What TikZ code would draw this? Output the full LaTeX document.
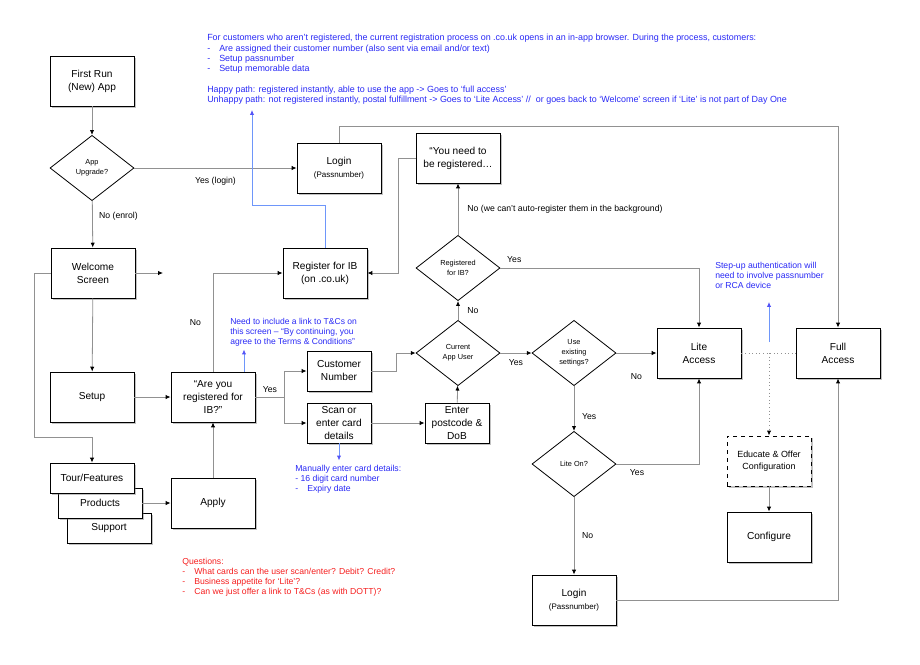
\documentclass[tikz,border=0pt]{standalone}
\usepackage{fontspec}
\setmainfont{Liberation Sans}
\usepackage{tikz}
\usetikzlibrary{shapes.geometric,shadows,arrows.meta}
\definecolor{noteblue}{RGB}{40,40,245}
\definecolor{linkblue}{RGB}{110,150,250}
\definecolor{qred}{RGB}{245,30,30}
\definecolor{linegray}{RGB}{145,145,145}

\begin{document}
\begin{tikzpicture}[x=0.75pt,y=0.75pt,yscale=-1,xscale=1,
  flowbox/.style={draw=black,line width=0.7pt,fill=white,align=center,inner sep=1pt,
    minimum width=63pt,minimum height=37.5pt,font=\fontsize{7.6}{9.75}\selectfont,
    drop shadow={shadow xshift=1.5pt,shadow yshift=-1.5pt,fill=black!60,opacity=0.4}},
  smallbox/.style={flowbox,minimum width=48pt,minimum height=30pt},
  stackbox/.style={flowbox,minimum height=22.5pt},
  decision/.style={diamond,draw=black,line width=0.6pt,fill=white,align=center,inner sep=0pt,
    minimum width=63pt,minimum height=49pt,font=\fontsize{5.5}{7.5}\selectfont},
  conn/.style={draw=linegray,line width=0.6pt,-{Latex[length=3.6pt,width=3.2pt,color=black]}},
  plain/.style={draw=linegray,line width=0.6pt},
  dotline/.style={draw=linegray,line width=0.7pt,dotted},
  bluelink/.style={draw=linkblue,line width=0.6pt,-{Latex[length=3.6pt,width=3.2pt,color=noteblue!80]}},
  lbl/.style={font=\fontsize{6.5}{7.5}\selectfont,inner sep=0.75pt},
  note/.style={font=\fontsize{6.5}{7.6}\selectfont,text=noteblue,align=left,inner sep=0.75pt,anchor=north west},
  ]
\useasboundingbox (0,0) rectangle (920,664);

% Text Node
\node[note,font=\fontsize{6.7}{7.75}\selectfont] (regnote) at (206,33) {For customers who aren’t registered, the current registration process on .co.uk opens in an in-app browser. During the process, customers:\\
\makebox[9pt][l]{-}Are assigned their customer number (also sent via email and/or text)\\
\makebox[9pt][l]{-}Setup passnumber\\
\makebox[9pt][l]{-}Setup memorable data\\[7.75pt]
Happy path: registered instantly, able to use the app -> Goes to ‘full access’\\
Unhappy path: not registered instantly, postal fulfillment -> Goes to ‘Lite Access’ //\ \ or goes back to ‘Welcome’ screen if ‘Lite’ is not part of Day One};

%Shape: Rectangle
\node[flowbox] (firstrun) at (92,81) {First Run\\(New) App};
%Shape: Diamond
\node[decision] (upgrade) at (92,168) {App\\Upgrade?};
%Shape: Rectangle
\node[flowbox] (login) at (339,168) {Login\\{\fontsize{6}{7.5}\selectfont(Passnumber)}};
\node[flowbox] (youneed) at (458,158) {“You need to\\be registered…};
\node[flowbox] (welcome) at (93,273) {Welcome\\Screen};
\node[flowbox] (register) at (325,273) {Register for IB\\(on .co.uk)};
\node[flowbox] (setup) at (92,397) {Setup};
\node[flowbox] (areyou) at (213,397) {“Are you\\registered for\\IB?”};
\node[smallbox] (customer) at (339,371) {Customer\\Number};
\node[smallbox] (scan) at (339,423) {Scan or\\enter card\\details};
\node[smallbox] (postcode) at (457,423) {Enter\\postcode \&\\DoB};
%Shape: Diamond
\node[decision] (registered) at (458,268) {Registered\\for IB?};
\node[decision] (current) at (458,353) {Current\\App User};
\node[decision] (useexisting) at (574,353) {Use\\existing\\settings?};
\node[decision] (liteon) at (574,464) {Lite On?};
%Shape: Rectangle
\node[flowbox] (lite) at (699,353) {Lite\\Access};
\node[flowbox] (full) at (838,353) {Full\\Access};
\node[flowbox,dashed,font=\fontsize{6.7}{9}\selectfont] (educate) at (769,461) {Educate \& Offer\\Configuration};
\node[flowbox] (configure) at (769,537) {Configure};
\node[flowbox] (login2) at (574,600) {Login\\{\fontsize{6}{7.5}\selectfont(Passnumber)}};
\node[stackbox] (support) at (109,528) {Support};
\node[stackbox] (products) at (100,503) {Products};
\node[stackbox] (tour) at (92,478) {Tour/Features};
\node[flowbox] (apply) at (213,503) {Apply};

\coordinate (welcomeend) at (163,273);
\coordinate (happytip) at (252,110);
\coordinate (stepfoot) at (769,342);

%Connectors
\draw[conn] (firstrun) -- (upgrade);
\draw[conn] (upgrade) -- node[lbl,below=6pt] {Yes (login)} (login);
\draw[conn] (upgrade) -- node[lbl,pos=0.33,right=4pt] {No (enrol)} (welcome);
\draw[conn] (welcome) -- (welcomeend);
\draw[conn] (welcome) -- (setup);
\draw[conn] (welcome.west) -- ++(-16,0) -- ++(0,164) -| (tour.north);
\draw[conn] (setup) -- (areyou);
\draw[conn] (areyou.north) |- node[lbl,pos=0.25,left=8pt] {No} (register.west);
\draw[plain] (areyou.east) -- node[lbl,above=2pt] {Yes} ++(29,0) coordinate (yesfork);
\draw[conn] (yesfork) |- (customer.west);
\draw[conn] (yesfork) |- (scan.west);
\draw[conn] (apply) -- (areyou);
\draw[conn] (products) -- (apply);
\draw[conn] (customer.east) -- ++(25,0) |- (current.west);
\draw[conn] (scan) -- (postcode);
\draw[conn] (postcode) -- (current);
\draw[conn] (current) -- node[lbl,right=6pt] {No} (registered);
\draw[conn] (registered) -- node[lbl,right=6pt] {No (we can’t auto-register them in the background)} (youneed);
\draw[conn] (youneed.west) -- ++(-17,0) |- (register.east);
\draw[conn] (registered.east) -| node[lbl,pos=0.035,above=3pt] {Yes} (lite.north);
\draw[conn] (current) -- node[lbl,below=4pt] {Yes} (useexisting);
\draw[conn] (useexisting) -- node[lbl,below=14pt] {No} (lite);
\draw[conn] (useexisting) -- node[lbl,pos=0.68,right=5pt] {Yes} (liteon);
\draw[conn] (liteon.east) -| node[lbl,pos=0.125,below=3pt] {Yes} (lite.south);
\draw[conn] (liteon) -- node[lbl,right=5pt] {No} (login2);
\draw[conn] (login2.east) -| (full.south);
\draw[conn] (login.north) -- ++(0,-16) -| (full.north);
\draw[dotline] (lite) -- (full);
\draw[dotline,-{Latex[length=3.6pt,width=3.2pt,color=black]}] (educate.north |- lite.east) -- (educate);
\draw[conn] (educate) -- (configure);

%Blue notes
\draw[bluelink] (register.north) -- ++(0,-42) -| (happytip);
\draw[bluelink] ([shift={(31,0)}]areyou.north) -- ++(0,-22);
\draw[bluelink] (scan.south) -- ++(0,17);
\draw[bluelink] (stepfoot) -- ++(0,-40);

% Text Node
\node[note,font=\fontsize{6.4}{7.5}\selectfont] (tcnote) at (229,317) {Need to include a link to T\&Cs on\\this screen – “By continuing, you\\agree to the Terms \& Conditions”};
\node[note] (cardnote) at (294,464) {Manually enter card details:\\- 16 digit card number\\\makebox[9pt][l]{-}Expiry date};
\node[note] (stepnote) at (714,261) {Step-up authentication will\\need to involve passnumber\\or RCA device};
\node[note,text=qred] (questions) at (181,557) {Questions:\\
\makebox[9pt][l]{-}What cards can the user scan/enter? Debit? Credit?\\
\makebox[9pt][l]{-}Business appetite for ‘Lite’?\\
\makebox[9pt][l]{-}Can we just offer a link to T\&Cs (as with DOTT)?};

\end{tikzpicture}
\end{document}
